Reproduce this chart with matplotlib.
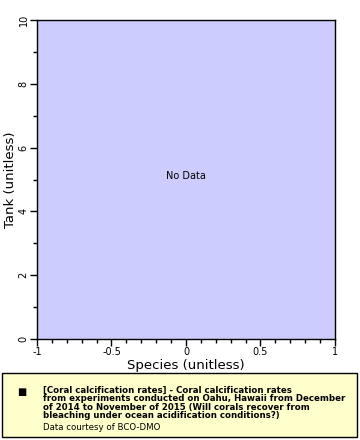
import matplotlib
matplotlib.use('Agg')
import matplotlib.pyplot as plt
from matplotlib.ticker import MultipleLocator
from matplotlib.patches import Rectangle

# --- data / labels ---
x_limits = [-1, 1]
y_limits = [0, 10]
x_ticks = [-1, -0.5, 0, 0.5, 1]
x_ticklabels = ['-1', '-0.5', '0', '0.5', '1']
y_ticks = [0, 2, 4, 6, 8, 10]
y_ticklabels = ['0', '2', '4', '6', '8', '10']
x_label = 'Species (unitless)'
y_label = 'Tank (unitless)'
legend_title = ('[Coral calcification rates] - Coral calcification rates\n'
                'from experiments conducted on Oahu, Hawaii from December\n'
                'of 2014 to November of 2015 (Will corals recover from\n'
                'bleaching under ocean acidification conditions?)')
legend_credit = 'Data courtesy of BCO-DMO'

W, H = 360, 440
fig = plt.figure(figsize=(W / 100, H / 100), dpi=100)
ax = fig.add_axes([37 / W, 1 - 339 / H, (335 - 37) / W, (339 - 20) / H])
ax.set_facecolor('#ccccff')
ax.set_xlim(x_limits)
ax.set_ylim(y_limits)

ax.set_xticks(x_ticks)
ax.set_xticklabels(x_ticklabels, fontsize=7)
ax.set_yticks(y_ticks)
ax.set_yticklabels(y_ticklabels, fontsize=7, rotation=90, va='center')
ax.xaxis.set_minor_locator(MultipleLocator(0.1))
ax.yaxis.set_minor_locator(MultipleLocator(1))
ax.tick_params(which='major', length=5, width=1, pad=1)
ax.tick_params(which='minor', length=3, width=1)
for s in ax.spines.values():
    s.set_linewidth(1)

ax.set_xlabel(x_label, fontsize=9.5, labelpad=1)
ax.set_ylabel(y_label, fontsize=9.5, labelpad=1)
# "No Data" sits a little above the centre in the original
ax.text(0.5, 0.51, 'No Data', ha='center', va='center', fontsize=7,
        transform=ax.transAxes)

# --- legend box at the bottom ---
fig.patches.append(Rectangle((2 / W, 1 - 437 / H), 355 / W, 64 / H,
                             transform=fig.transFigure, facecolor='#ffffcc',
                             edgecolor='black', linewidth=1))
fig.text(22 / W, 1 - 392 / H, '\u25a0', fontsize=7, ha='center', va='center')
fig.text(43 / W, 1 - 386 / H, legend_title, fontsize=6.2, fontweight='bold',
         va='top', ha='left', linespacing=0.92)
fig.text(43 / W, 1 - 427 / H, legend_credit, fontsize=6.2, va='center', ha='left')

fig.savefig('out.png', dpi=100)
